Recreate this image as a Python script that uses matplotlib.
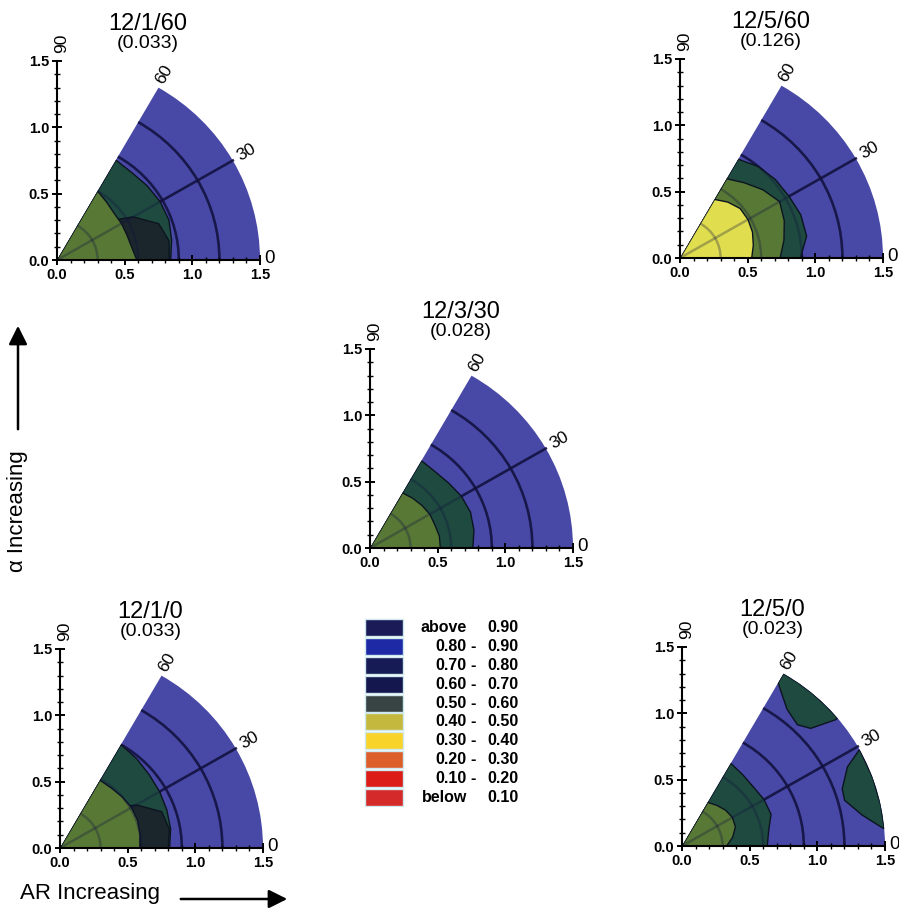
import numpy as np
import matplotlib.pyplot as plt
from matplotlib.patches import Wedge, Arc, Polygon, Rectangle
from matplotlib.ticker import MultipleLocator

plt.rcParams['font.family'] = ['Liberation Sans', 'DejaVu Sans']

# angles (deg) at which the contour boundaries were read
ANGLES = [0, 10, 20, 30, 40, 50, 60]

TITLES = ['12/1/60', '12/5/60', '12/3/30', '12/1/0', '12/5/0']
SCORES = ['(0.033)', '(0.126)', '(0.028)', '(0.033)', '(0.023)']

# boundary radius of each filled contour band, at ANGLES (outer band first)
P1_TEAL = [0.84, 0.86, 0.88, 0.88, 0.87, 0.86, 0.87]
P1_DARK = [0.83, 0.84, 0.80, 0.65, 0.45, 0.20, 0.00]
P1_GREEN = [0.59, 0.56, 0.55, 0.55, 0.55, 0.57, 0.60]

P2_TEAL = [0.89, 0.95, 0.95, 0.93, 0.92, 0.90, 0.86]
P2_GREEN = [0.74, 0.78, 0.82, 0.85, 0.80, 0.74, 0.69]
P2_YELLOW = [0.53, 0.55, 0.57, 0.58, 0.58, 0.55, 0.51]

P3_TEAL = [0.76, 0.78, 0.79, 0.78, 0.76, 0.75, 0.76]
P3_GREEN = [0.52, 0.52, 0.51, 0.51, 0.50, 0.49, 0.48]

P4_TEAL = [0.81, 0.83, 0.84, 0.85, 0.86, 0.88, 0.90]
P4_DARK = [0.80, 0.82, 0.80, 0.65, 0.45, 0.20, 0.00]
P4_GREEN = [0.59, 0.60, 0.61, 0.61, 0.60, 0.59, 0.59]

P5_TEAL = [0.63, 0.65, 0.70, 0.70, 0.69, 0.70, 0.72]
P5_GREEN = [0.33, 0.38, 0.42, 0.43, 0.42, 0.40, 0.38]

# isolated patches in 12/5/0 (angle deg, radius)
P5_ISLAND1_T = [60, 53, 47, 43, 40, 40, 45, 50, 55, 60]
P5_ISLAND1_R = [1.42, 1.29, 1.25, 1.30, 1.48, 1.5, 1.5, 1.5, 1.5, 1.5]
P5_ISLAND2_T = [29, 26, 20, 16, 10, 5.5, 5, 12, 20, 29]
P5_ISLAND2_R = [1.5, 1.36, 1.26, 1.25, 1.35, 1.48, 1.5, 1.5, 1.5, 1.5]

# legend
LEG_LOW = ['above', '0.80', '0.70', '0.60', '0.50', '0.40', '0.30', '0.20', '0.10', 'below']
LEG_HIGH = ['0.90', '0.90', '0.80', '0.70', '0.60', '0.50', '0.40', '0.30', '0.20', '0.10']
LEG_COLORS = ['#1b1b58', '#1e2aa5', '#161a55', '#14164e', '#384444',
              '#c4b93e', '#f8d42a', '#dc5f2a', '#dc1c16', '#d52a2a']

BLUE = '#4848a6'
TEAL = '#1e4a3f'
DARK = '#1a262c'
GREEN = '#587836'
YELLOW = '#e0de4e'
LINE = '#12123f'

PANELS = [
    [(P1_TEAL, TEAL), (P1_DARK, DARK), (P1_GREEN, GREEN)],
    [(P2_TEAL, TEAL), (P2_GREEN, GREEN), (P2_YELLOW, YELLOW)],
    [(P3_TEAL, TEAL), (P3_GREEN, GREEN)],
    [(P4_TEAL, TEAL), (P4_DARK, DARK), (P4_GREEN, GREEN)],
    [(P5_TEAL, TEAL), (P5_GREEN, GREEN)],
]
ISLANDS = {4: [(P5_ISLAND1_T, P5_ISLAND1_R), (P5_ISLAND2_T, P5_ISLAND2_R)]}

W, H = 899, 911
# axes origin (pixels) of each panel
ORIGINS = [(57, 260), (680, 258), (370, 548), (60, 848), (682, 846)]
AX_W, AX_H = 203, 199


def polar_xy(theta_deg, r):
    t = np.radians(theta_deg)
    return np.column_stack([np.array(r) * np.cos(t), np.array(r) * np.sin(t)])


def draw_grid(ax, z, alpha):
    for rad in [0.3, 0.6, 0.9, 1.2]:
        ax.add_patch(Arc((0, 0), 2 * rad, 2 * rad, theta1=0, theta2=60,
                         color=LINE, lw=1.8, alpha=alpha, zorder=z))
    spoke = polar_xy([30, 30], [0.0, 1.5])
    ax.plot(spoke[:, 0], spoke[:, 1], color=LINE, lw=1.8, alpha=alpha, zorder=z)


fig = plt.figure(figsize=(W / 100, H / 100), dpi=100)

for i, (ox, oy) in enumerate(ORIGINS):
    ax = fig.add_axes([ox / W, 1 - oy / H, AX_W / W, AX_H / H])
    ax.set_xlim(0, 1.5)
    ax.set_ylim(0, 1.5)
    ax.set_facecolor('none')

    sector = Wedge((0, 0), 1.5, 0, 60, facecolor=BLUE, edgecolor='none', zorder=1)
    ax.add_patch(sector)
    draw_grid(ax, 1.5, 0.85)

    for radii, col in PANELS[i]:
        pts = np.vstack([[0, 0], polar_xy(ANGLES, radii)])
        poly = Polygon(pts, closed=True, facecolor=col, edgecolor='#0c1420',
                       lw=1.0, zorder=2)
        ax.add_patch(poly)
        poly.set_clip_path(sector)

    for th, rr in ISLANDS.get(i, []):
        poly = Polygon(polar_xy(th, rr), closed=True, facecolor=TEAL,
                       edgecolor='#0c1420', lw=1.0, zorder=2)
        ax.add_patch(poly)
        poly.set_clip_path(sector)

    # faint grid showing through the filled bands
    draw_grid(ax, 3, 0.3)

    # angle labels
    ax.text(1.57, 0.01, '0', fontsize=13.5, ha='center', va='center')
    p = polar_xy([30], [1.62])[0]
    ax.text(p[0], p[1], '30', fontsize=12.5, rotation=30, ha='center', va='center')
    p = polar_xy([60.5], [1.61])[0]
    ax.text(p[0], p[1], '60', fontsize=12.5, rotation=60, ha='center', va='center')
    ax.text(0.035, 1.63, '90', fontsize=12.5, rotation=90, ha='center', va='center')

    for s in ['top', 'right']:
        ax.spines[s].set_visible(False)
    for s in ['left', 'bottom']:
        ax.spines[s].set_linewidth(1.5)
        ax.spines[s].set_zorder(5)
    ax.xaxis.set_major_locator(MultipleLocator(0.5))
    ax.yaxis.set_major_locator(MultipleLocator(0.5))
    ax.xaxis.set_minor_locator(MultipleLocator(0.1))
    ax.yaxis.set_minor_locator(MultipleLocator(0.1))
    ax.tick_params(which='major', direction='inout', length=7, width=1.4, pad=2,
                   labelsize=10.5)
    ax.tick_params(which='minor', direction='inout', length=4, width=1.0)
    ax.xaxis.set_major_formatter(plt.FormatStrFormatter('%.1f'))
    ax.yaxis.set_major_formatter(plt.FormatStrFormatter('%.1f'))
    for lab in ax.get_xticklabels() + ax.get_yticklabels():
        lab.set_fontweight('bold')

    cx = (ox + AX_W / 2 - 11) / W
    top = 1 - (oy - AX_H) / H
    fig.text(cx, top + 37 / H, TITLES[i], fontsize=17, ha='center', va='center')
    fig.text(cx, top + 17 / H, SCORES[i], fontsize=14, ha='center', va='center')

# legend block
lax = fig.add_axes([362 / W, 1 - 807 / H, 160 / W, 189 / H])
lax.set_xlim(0, 160)
lax.set_ylim(len(LEG_LOW) - 0.5, -0.5)
lax.axis('off')
for k in range(len(LEG_LOW)):
    lax.add_patch(Rectangle((3, k - 0.45), 38, 0.9, facecolor=LEG_COLORS[k],
                            edgecolor='#cfe8ee', lw=1.0))
    lax.text(105, k, LEG_LOW[k], fontsize=11.5, fontweight='bold', ha='right', va='center')
    if 0 < k < len(LEG_LOW) - 1:
        lax.text(111, k, '-', fontsize=11.5, fontweight='bold', ha='center', va='center')
    lax.text(157, k, LEG_HIGH[k], fontsize=11.5, fontweight='bold', ha='right', va='center')

# direction labels
fig.text(18 / W, 1 - 511 / H, 'α Increasing', fontsize=16, rotation=90,
         ha='center', va='center')
fig.text(90 / W, 1 - 893 / H, 'AR Increasing', fontsize=16, ha='center', va='center')
arrow = dict(arrowstyle='-|>', lw=1.8, color='black', mutation_scale=28)
fig.add_artist(plt.Annotation('', xy=(18 / W, 1 - 323 / H), xytext=(18 / W, 1 - 432 / H),
                              xycoords='figure fraction', arrowprops=arrow))
fig.add_artist(plt.Annotation('', xy=(290 / W, 1 - 899 / H), xytext=(178 / W, 1 - 899 / H),
                              xycoords='figure fraction', arrowprops=arrow))

fig.savefig('out.png', dpi=100)
